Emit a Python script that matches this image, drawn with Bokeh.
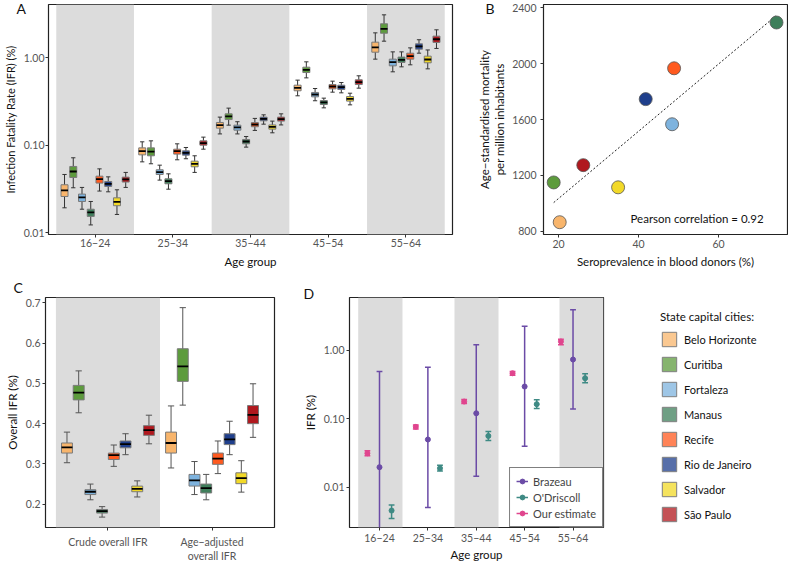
import numpy as np
from bokeh.plotting import figure
from bokeh.models import (ColumnDataSource, FixedTicker, PrintfTickFormatter, Range1d,
                          Label, Legend, LegendItem, BoxAnnotation, Title)
from bokeh.layouts import row, column
from bokeh.embed import file_html
from bokeh.resources import INLINE

FONT = "Lato"

CITIES = ["Belo Horizonte", "Curitiba", "Fortaleza", "Manaus", "Recife",
          "Rio de Janeiro", "Salvador", "São Paulo"]
CITY_COLORS = ["#F8B56C", "#5D9B3D", "#7EB3DE", "#3F7F5B", "#FF5A1F",
               "#1F3F8C", "#F2D928", "#B0181E"]
AGE_GROUPS = ["16−24", "25−34", "35−44", "45−54", "55−64"]

# ---------------- Panel A: IFR (%) by age group; rows = cities, cols = age groups
A_LO = [[0.0193, 0.0647, 0.135, 0.368, 0.966],
        [0.0327, 0.0615, 0.170, 0.590, 1.55],
        [0.0186, 0.040, 0.135, 0.323, 0.692],
        [0.0123, 0.0315, 0.0953, 0.268, 0.789],
        [0.030, 0.0683, 0.148, 0.405, 0.832],
        [0.0294, 0.0702, 0.1745, 0.398, 1.13],
        [0.0162, 0.049, 0.139, 0.29, 0.748],
        [0.033, 0.0903, 0.171, 0.45, 1.28]]
A_Q1 = [[0.026, 0.0778, 0.157, 0.42, 1.16],
        [0.0429, 0.0759, 0.197, 0.679, 1.91],
        [0.0228, 0.0464, 0.149, 0.358, 0.81],
        [0.0154, 0.0363, 0.104, 0.293, 0.885],
        [0.037, 0.0793, 0.163, 0.442, 0.966],
        [0.0339, 0.0772, 0.1905, 0.435, 1.256],
        [0.0204, 0.0568, 0.153, 0.32, 0.877],
        [0.038, 0.1004, 0.189, 0.495, 1.50]]
A_MED = [[0.0305, 0.0857, 0.170, 0.454, 1.32],
         [0.0502, 0.0849, 0.214, 0.729, 2.14],
         [0.0254, 0.0493, 0.160, 0.381, 0.892],
         [0.0171, 0.0389, 0.1106, 0.309, 0.949],
         [0.041, 0.0857, 0.173, 0.47, 1.045],
         [0.0363, 0.082, 0.201, 0.462, 1.35],
         [0.0226, 0.0615, 0.1626, 0.34, 0.957],
         [0.0407, 0.106, 0.199, 0.527, 1.63]]
A_Q3 = [[0.0354, 0.0935, 0.1824, 0.487, 1.51],
        [0.0573, 0.0935, 0.229, 0.782, 2.45],
        [0.0277, 0.0525, 0.170, 0.402, 0.966],
        [0.0186, 0.0414, 0.1166, 0.325, 1.02],
        [0.0444, 0.0903, 0.182, 0.495, 1.13],
        [0.0386, 0.0865, 0.21, 0.487, 1.445],
        [0.0251, 0.0659, 0.171, 0.361, 1.045],
        [0.0433, 0.1125, 0.21, 0.561, 1.77]]
A_HI = [[0.0464, 0.1096, 0.21, 0.556, 1.93],
        [0.072, 0.1125, 0.266, 0.90, 3.10],
        [0.033, 0.0593, 0.186, 0.446, 1.17],
        [0.0228, 0.0472, 0.126, 0.346, 1.17],
        [0.0538, 0.104, 0.203, 0.541, 1.30],
        [0.0436, 0.0944, 0.223, 0.522, 1.61],
        [0.031, 0.0759, 0.189, 0.394, 1.23],
        [0.049, 0.124, 0.229, 0.623, 2.09]]

# ---------------- Panel B: seroprevalence vs age-standardised mortality
SEROPREV = [20.3, 18.8, 48.4, 74.5, 48.9, 41.8, 34.9, 26.2]
MORTALITY = [864, 1149, 1566, 2295, 1967, 1746, 1114, 1273]

# ---------------- Panel C: overall IFR (%), cols = crude, age-adjusted
C_GROUPS = ["Crude overall IFR", "Age−adjusted\noverall IFR"]
C_LO = [[0.303, 0.290], [0.427, 0.446], [0.211, 0.224], [0.168, 0.211],
        [0.294, 0.276], [0.323, 0.323], [0.218, 0.230], [0.350, 0.366]]
C_Q1 = [[0.327, 0.327], [0.459, 0.505], [0.224, 0.245], [0.178, 0.228],
        [0.311, 0.299], [0.340, 0.348], [0.231, 0.251], [0.371, 0.400]]
C_MED = [[0.341, 0.352], [0.477, 0.542], [0.231, 0.259], [0.183, 0.240],
         [0.322, 0.313], [0.349, 0.361], [0.238, 0.265], [0.384, 0.422]]
C_Q3 = [[0.352, 0.379], [0.495, 0.586], [0.236, 0.274], [0.187, 0.250],
        [0.327, 0.327], [0.357, 0.375], [0.245, 0.278], [0.395, 0.445]]
C_HI = [[0.379, 0.444], [0.531, 0.688], [0.250, 0.306], [0.194, 0.274],
        [0.347, 0.357], [0.375, 0.406], [0.258, 0.308], [0.421, 0.499]]

# ---------------- Panel D: IFR (%) estimates by study
D_SERIES = ["Brazeau", "O'Driscoll", "Our estimate"]
D_COLORS = ["#6B4BA6", "#3E8A84", "#E0458E"]
BRAZEAU_EST = [0.0196, 0.0497, 0.120, 0.295, 0.731]
BRAZEAU_LO = [0.001, 0.00505, 0.0145, 0.0397, 0.139]
BRAZEAU_HI = [0.489, 0.565, 1.197, 2.24, 3.88]
ODRISCOLL_EST = [0.00456, 0.0189, 0.056, 0.163, 0.39]
ODRISCOLL_LO = [0.0035, 0.0173, 0.048, 0.141, 0.334]
ODRISCOLL_HI = [0.0055, 0.021, 0.065, 0.189, 0.452]
OURS_EST = [0.0313, 0.076, 0.178, 0.461, 1.34]
OURS_LO = [0.0289, 0.071, 0.166, 0.43, 1.20]
OURS_HI = [0.034, 0.081, 0.19, 0.49, 1.45]

BAND = "#dcdcdc"


def make_fig(width, height, left, right, top, bottom, x_range, y_range, y_log=False,
             x_std=(1, 5), y_std=(2, 4)):
    p = figure(width=width, height=height, x_range=x_range, y_range=y_range,
               y_axis_type="log" if y_log else "linear",
               output_backend="svg", toolbar_location=None,
               min_border_left=left, min_border_right=right,
               min_border_top=top, min_border_bottom=bottom)
    p.outline_line_color = "#222222"
    p.outline_line_width = 1.2
    p.grid.visible = False
    p.background_fill_color = "white"
    p.border_fill_color = "white"
    for ax, std in [(a, x_std) for a in p.xaxis] + [(a, y_std) for a in p.yaxis]:
        ax.axis_line_color = None
        ax.major_tick_out = 3
        ax.major_tick_in = 0
        ax.minor_tick_line_color = None
        ax.major_tick_line_color = "#333333"
        ax.major_label_text_font = FONT
        ax.major_label_text_font_size = "10.5px"
        ax.major_label_text_color = "#555555"
        ax.axis_label_text_font = FONT
        ax.axis_label_text_font_size = "11.5px"
        ax.axis_label_text_font_style = "normal"
        ax.axis_label_text_color = "#111111"
        ax.major_label_standoff = std[0]
        ax.axis_label_standoff = std[1]
    return p


def add_letter(p, text, offset, standoff):
    t = Title(text=text, align="left", offset=offset, text_font=FONT,
              text_font_size="14px", text_font_style="normal", text_color="#111111")
    try:
        t.standoff = standoff
    except Exception:
        t.standoff = 0
    p.add_layout(t, "above")


def draw_boxes(p, groups, lo, q1, med, q3, hi, box_w, cap_w, whisk_color):
    n = len(CITIES)
    dodge = 0.9
    step = dodge / n
    for k in range(n):
        off = -dodge / 2 + step * (k + 0.5)
        x = [g + off for g in groups]
        src = ColumnDataSource(dict(
            x=x, lo=lo[k], q1=q1[k], med=med[k], q3=q3[k], hi=hi[k],
            bx0=[v - box_w / 2 for v in x], bx1=[v + box_w / 2 for v in x],
            cx0=[v - cap_w / 2 for v in x], cx1=[v + cap_w / 2 for v in x]))
        p.segment(x0="x", y0="lo", x1="x", y1="hi", source=src,
                  line_color=whisk_color, line_width=1)
        p.segment(x0="cx0", y0="lo", x1="cx1", y1="lo", source=src,
                  line_color=whisk_color, line_width=1)
        p.segment(x0="cx0", y0="hi", x1="cx1", y1="hi", source=src,
                  line_color=whisk_color, line_width=1)
        p.vbar(x="x", width=box_w, bottom="q1", top="q3", source=src,
               fill_color=CITY_COLORS[k], line_color="#7a7a7a", line_width=1)
        p.segment(x0="bx0", y0="med", x1="bx1", y1="med", source=src,
                  line_color="black", line_width=1.8)


groups5 = list(range(1, len(AGE_GROUPS) + 1))

# ================= Panel A
pa = make_fig(462, 274, 45, 10, 4, 40, Range1d(0.4, 5.6), Range1d(0.00956, 4.07), y_log=True,
              x_std=(1, 5), y_std=(1, 4))
for g in groups5[::2]:
    pa.add_layout(BoxAnnotation(left=g - 0.5, right=g + 0.5, fill_color=BAND,
                                fill_alpha=1, line_color=None, level="underlay"))
draw_boxes(pa, groups5, A_LO, A_Q1, A_MED, A_Q3, A_HI, 0.09, 0.055, "#333333")
pa.xaxis.ticker = FixedTicker(ticks=groups5)
pa.xaxis.major_label_overrides = {g: lab for g, lab in zip(groups5, AGE_GROUPS)}
pa.yaxis.ticker = FixedTicker(ticks=[0.01, 0.1, 1.0])
pa.yaxis.formatter = PrintfTickFormatter(format="%.2f")
pa.xaxis.axis_label = "Age group"
pa.yaxis.axis_label = "Infection Fatality Rate (IFR) (%)"
pa.yaxis.axis_label_text_font_size = "11px"
add_letter(pa, "A", -32, -24)

# ================= Panel B
pb = make_fig(326, 274, 81, 1, 4, 39, Range1d(16.25, 77.25), Range1d(776, 2424),
              x_std=(2, 4), y_std=(4, 3))
xs = np.array(SEROPREV, dtype=float)
ys = np.array(MORTALITY, dtype=float)
slope, intercept = np.polyfit(xs, ys, 1)
r = np.corrcoef(xs, ys)[0, 1]
fx = np.array([xs.min(), xs.max()])
pb.line(fx, slope * fx + intercept, line_color="#222222", line_width=1, line_dash="2 2")
pb.scatter(SEROPREV, MORTALITY, size=13, fill_color=CITY_COLORS,
           line_color="#555555", line_width=0.8)
pb.xaxis.ticker = FixedTicker(ticks=[20, 40, 60])
pb.yaxis.ticker = FixedTicker(ticks=[800, 1200, 1600, 2000, 2400])
pb.xaxis.axis_label = "Seroprevalence in blood donors (%)"
pb.yaxis.axis_label = "Age−standardised mortality\nper million inhabitants"
pb.add_layout(Label(x=38, y=890, text=f"Pearson correlation =  {r:.2f}",
                    text_font=FONT, text_font_size="11.5px", text_baseline="middle",
                    text_color="#111111"))
add_letter(pb, "B", -58, -24)

# ================= Panel C
groups2 = [1, 2]
pc = make_fig(292, 292, 45, 18, 23, 39, Range1d(0.4, 2.6), Range1d(0.1422, 0.7132),
              x_std=(5, 3), y_std=(2, 4))
pc.add_layout(BoxAnnotation(left=0.5, right=1.5, fill_color=BAND, fill_alpha=1,
                            line_color=None, level="underlay"))
draw_boxes(pc, groups2, C_LO, C_Q1, C_MED, C_Q3, C_HI, 0.105, 0.06, "#555555")
pc.xaxis.ticker = FixedTicker(ticks=groups2)
pc.xaxis.major_label_overrides = {g: lab for g, lab in zip(groups2, C_GROUPS)}
pc.yaxis.ticker = FixedTicker(ticks=[0.2, 0.3, 0.4, 0.5, 0.6, 0.7])
pc.yaxis.axis_label = "Overall IFR (%)"
add_letter(pc, "C", -32, 4)

# ================= Panel D
pd_ = make_fig(323, 292, 57, 12, 23, 39, Range1d(0.38, 5.63), Range1d(0.00258, 5.88), y_log=True,
               x_std=(3, 3), y_std=(2, 4))
for lft, rgt in [(0.56, 1.475), (2.55, 3.46), (4.72, None)]:
    pd_.add_layout(BoxAnnotation(left=lft, right=rgt, fill_color=BAND, fill_alpha=1,
                                 line_color=None, level="underlay"))
d_offsets = [0.0, 0.25, -0.25]
d_est = [BRAZEAU_EST, ODRISCOLL_EST, OURS_EST]
d_lo = [BRAZEAU_LO, ODRISCOLL_LO, OURS_LO]
d_hi = [BRAZEAU_HI, ODRISCOLL_HI, OURS_HI]
cap = 0.12
legend_items = []
for name, col, off, est, lo, hi in zip(D_SERIES, D_COLORS, d_offsets, d_est, d_lo, d_hi):
    x = [g + off for g in groups5]
    src = ColumnDataSource(dict(x=x, est=est, lo=lo, hi=hi,
                                cx0=[v - cap / 2 for v in x], cx1=[v + cap / 2 for v in x]))
    seg = pd_.segment(x0="x", y0="lo", x1="x", y1="hi", source=src, line_color=col, line_width=1.5)
    pd_.segment(x0="cx0", y0="lo", x1="cx1", y1="lo", source=src, line_color=col, line_width=1.5)
    pd_.segment(x0="cx0", y0="hi", x1="cx1", y1="hi", source=src, line_color=col, line_width=1.5)
    pts = pd_.scatter(x="x", y="est", source=src, size=5, fill_color=col, line_color=col)
    legend_items.append(LegendItem(label=name, renderers=[seg, pts]))
pd_.xaxis.ticker = FixedTicker(ticks=groups5)
pd_.xaxis.major_label_overrides = {g: lab for g, lab in zip(groups5, AGE_GROUPS)}
pd_.yaxis.ticker = FixedTicker(ticks=[0.01, 0.1, 1.0])
pd_.yaxis.formatter = PrintfTickFormatter(format="%.2f")
pd_.xaxis.axis_label = "Age group"
pd_.yaxis.axis_label = "IFR (%)"
dleg = Legend(items=legend_items, location="bottom_right", margin=0, padding=6,
              spacing=2, glyph_width=12, glyph_height=14, label_height=14,
              label_standoff=5, border_line_color="black", border_line_width=1,
              label_text_font=FONT, label_text_font_size="11px",
              background_fill_color="white", background_fill_alpha=1)
pd_.add_layout(dleg)
add_letter(pd_, "D", -46, -9)

# ================= City legend
pl = figure(width=173, height=292, x_range=Range1d(0, 1), y_range=Range1d(0, 1),
            x_axis_type=None, y_axis_type=None, output_backend="svg", toolbar_location=None,
            min_border_left=32, min_border_top=23, min_border_right=0, min_border_bottom=39)
pl.outline_line_color = None
pl.grid.visible = False
city_items = []
for name, col in zip(CITIES, CITY_COLORS):
    rr = pl.vbar(x=[float("nan")], top=[float("nan")], width=0.1, fill_color=col,
                 fill_alpha=0.75, line_color="#7f7f7f", line_width=1)
    city_items.append(LegendItem(label=name, renderers=[rr]))
cleg = Legend(items=city_items, location="top_left", margin=13, padding=0,
              spacing=7, glyph_width=18, glyph_height=18, label_height=18,
              label_standoff=6, border_line_color=None, background_fill_alpha=0,
              title="State capital cities:", title_standoff=7,
              title_text_font=FONT, title_text_font_size="11.5px",
              title_text_font_style="normal", title_text_color="#111111",
              label_text_font=FONT, label_text_font_size="11px",
              label_text_color="#111111")
pl.add_layout(cleg)

layout = column(row(pa, pb), row(pc, pd_, pl))
open("out.html", "w").write(file_html(layout, INLINE))
